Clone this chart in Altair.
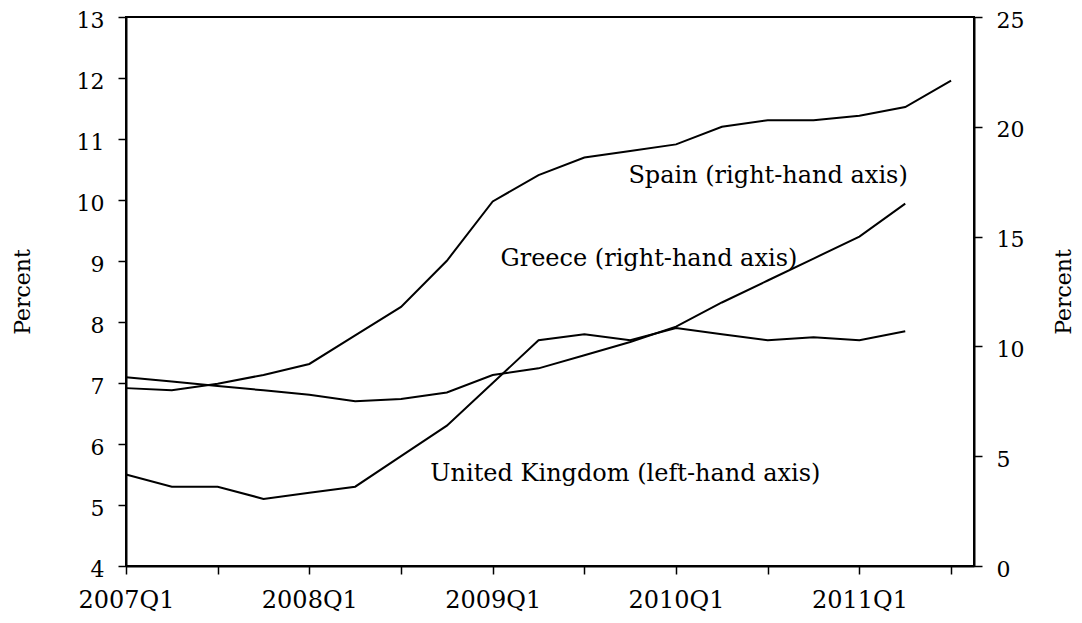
import altair as alt
import pandas as pd

# ---- data ----
quarters = ["2007Q1", "2007Q2", "2007Q3", "2007Q4",
            "2008Q1", "2008Q2", "2008Q3", "2008Q4",
            "2009Q1", "2009Q2", "2009Q3", "2009Q4",
            "2010Q1", "2010Q2", "2010Q3", "2010Q4",
            "2011Q1", "2011Q2", "2011Q3"]
uk_rate = [5.5, 5.3, 5.3, 5.1, 5.2, 5.3, 5.8, 6.3, 7.0, 7.7, 7.8, 7.7,
           7.9, 7.8, 7.7, 7.75, 7.7, 7.85]
spain_rate = [8.1, 8.0, 8.3, 8.7, 9.2, 10.5, 11.8, 13.9, 16.6, 17.8, 18.6,
              18.9, 19.2, 20.0, 20.3, 20.3, 20.5, 20.9, 22.1]
greece_rate = [8.6, 8.4, 8.2, 8.0, 7.8, 7.5, 7.6, 7.9, 8.7, 9.0, 9.6, 10.2,
               10.9, 12.0, 13.0, 14.0, 15.0, 16.5]

label_text = ["Spain (right-hand axis)", "Greece (right-hand axis)",
              "United Kingdom (left-hand axis)"]
label_quarter = [10.96, 8.17, 6.64]          # quarter index where text starts
label_left_value = [10.28, 8.91, 5.39]        # left-axis value of text baseline

left_ticks = list(range(4, 14))
right_ticks = [0, 5, 10, 15, 20, 25]
x_ticks = list(range(0, 19, 2))

FONT = "DejaVu Serif"

uk_df = pd.DataFrame({"q": list(range(len(uk_rate))), "value": uk_rate})
right_df = pd.concat([
    pd.DataFrame({"q": list(range(len(spain_rate))), "value": spain_rate,
                  "country": "Spain"}),
    pd.DataFrame({"q": list(range(len(greece_rate))), "value": greece_rate,
                  "country": "Greece"}),
])
label_df = pd.DataFrame({"q": label_quarter, "value": label_left_value,
                         "text": label_text})

q_array = "[" + ",".join(f"'{q}'" for q in quarters) + "]"
x_label_expr = f"datum.value % 4 == 0 ? {q_array}[datum.value] : ''"

x_scale = alt.Scale(domain=[0, 18.5], nice=False, zero=False)


def x_axis():
    return alt.Axis(values=x_ticks, labelExpr=x_label_expr, title=None,
                    labelPadding=14, labelFontSize=24, labelFlush=False,
                    labelOverlap=False)


uk_line = alt.Chart(uk_df).mark_line(color="black", strokeWidth=2).encode(
    x=alt.X("q:Q", scale=x_scale, axis=x_axis()),
    y=alt.Y("value:Q",
            scale=alt.Scale(domain=[4, 13], nice=False, zero=False),
            axis=alt.Axis(values=left_ticks, orient="left", title="Percent",
                          labelPadding=14, labelOffset=3, titleAngle=270,
                          titleX=-104, titleY=274.5, titleAlign="center",
                          titleBaseline="middle")),
)

labels = alt.Chart(label_df).mark_text(
    align="left", baseline="alphabetic", font=FONT, fontSize=24, color="black"
).encode(
    x=alt.X("q:Q", scale=x_scale, axis=x_axis()),
    y=alt.Y("value:Q", scale=alt.Scale(domain=[4, 13], nice=False, zero=False),
            axis=None),
    text="text:N",
)

right_lines = alt.Chart(right_df).mark_line(color="black", strokeWidth=2).encode(
    x=alt.X("q:Q", scale=x_scale, axis=x_axis()),
    y=alt.Y("value:Q",
            scale=alt.Scale(domain=[0, 25], nice=False, zero=True),
            axis=alt.Axis(values=right_ticks, orient="right", title="Percent",
                          labelPadding=14, labelOffset=3, titleAngle=270,
                          titleX=89, titleY=274.5, titleAlign="center",
                          titleBaseline="middle")),
    detail="country:N",
)

chart = alt.layer(uk_line, labels, right_lines).resolve_scale(
    y="independent"
).properties(
    width=848,
    height=549,
    autosize=alt.AutoSizeParams(type="none"),
    padding={"left": 118, "top": 9, "right": 100, "bottom": 48},
    background="white",
).configure_axis(
    labelFont=FONT, titleFont=FONT, labelFontSize=22, titleFontSize=22,
    labelColor="black", titleColor="black", domainColor="black",
    tickColor="black", domainWidth=2, tickWidth=1.5, tickSize=8, grid=False,
    titleFontWeight="normal",
).configure_view(stroke="black", strokeWidth=2)

chart.save("out.html", embed_options={"renderer": "svg", "actions": False})
